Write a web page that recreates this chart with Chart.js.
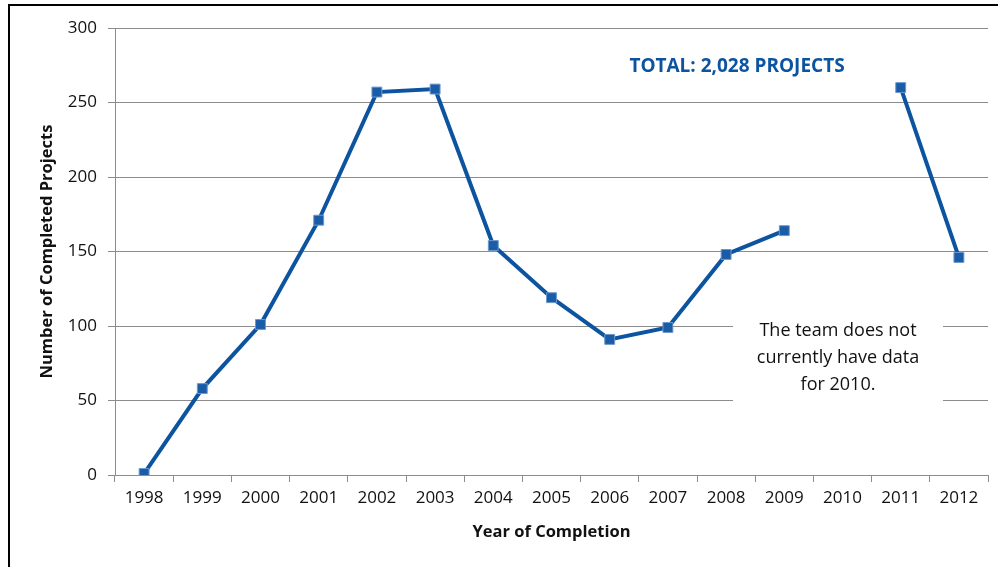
<!DOCTYPE html>
<html>
<head>
<meta charset="utf-8">
<script src="https://cdn.jsdelivr.net/npm/chart.js@4.4.1/dist/chart.umd.min.js"></script>
<style>
  html, body { margin: 0; padding: 0; background: #fff; overflow: hidden; }
  #wrap { position: relative; width: 998px; height: 567px; }
  #frame {
    position: absolute; left: 8px; top: 4px; width: 1100px; height: 700px;
    border-left: 2px solid #000; border-top: 2px solid #000; pointer-events: none;
  }
</style>
</head>
<body>
<div id="wrap">
  <canvas id="chart"></canvas>
  <div id="frame"></div>
</div>
<script>
const years = ["1998", "1999", "2000", "2001", "2002", "2003", "2004", "2005",
  "2006", "2007", "2008", "2009", "2010", "2011", "2012"];
// 2010 has no data, left as a gap in the line
const completed = [1, 58, 101, 171, 257, 259, 154, 119, 91, 99, 148, 164, null, 260, 146];
const yTicks = [0, 50, 100, 150, 200, 250, 300];

const yTitle = "Number of Completed Projects";
const totalText = "TOTAL: 2,028 PROJECTS";
const noteLines = ["The team does not", "currently have data", "for 2010."];

const FONT = "'Open Sans', 'Noto Sans', sans-serif";
const BLUE = "#0d54a0";

const overlay = {
  id: "overlay",
  afterDatasetsDraw(chart) {
    const ctx = chart.ctx;
    const area = chart.chartArea;
    ctx.save();
    // white note box sits over the grid lines
    ctx.fillStyle = "#fff";
    ctx.fillRect(733, 314, 210, 92);
    ctx.fillStyle = "#111";
    ctx.font = "18px " + FONT;
    ctx.textAlign = "center";
    ctx.textBaseline = "middle";
    noteLines.forEach((line, i) => ctx.fillText(line, 838, 331 + i * 27));

    ctx.fillStyle = BLUE;
    ctx.font = "bold 19px " + FONT;
    ctx.fillText(totalText, 737, 67);

    // y axis title, centred on the plot height
    ctx.fillStyle = "#111";
    ctx.font = "bold 16.5px " + FONT;
    ctx.translate(47, (area.top + area.bottom) / 2);
    ctx.rotate(-Math.PI / 2);
    ctx.fillText(yTitle, 0, 0);
    ctx.restore();
  },
};

new Chart(document.getElementById("chart"), {
  type: "line",
  data: {
    labels: years,
    datasets: [{
      data: completed,
      borderColor: BLUE,
      borderWidth: 4,
      pointStyle: "rect",
      pointRadius: 7,
      pointHoverRadius: 7,
      pointBackgroundColor: "#1a5ca8",
      pointBorderColor: "#6d98cc",
      pointBorderWidth: 1,
      spanGaps: false,
      tension: 0,
    }],
  },
  options: {
    responsive: true,
    maintainAspectRatio: false,
    animation: false,
    layout: { padding: { left: 0, top: 28, right: 10, bottom: 0 } },
    plugins: { legend: { display: false }, tooltip: { enabled: false } },
    scales: {
      x: {
        offset: true,
        grid: { display: true, drawOnChartArea: false, offset: true, tickLength: 7, color: "#8c8c8c" },
        border: { color: "#8c8c8c", width: 1 },
        ticks: { color: "#111", font: { family: FONT, size: 17 }, padding: 6, maxRotation: 0, autoSkip: false },
        title: {
          display: true, text: "Year of Completion", color: "#111",
          font: { family: FONT, size: 16.5, weight: "bold" }, padding: { top: 0, bottom: 25 },
        },
        afterFit(scale) { scale.height = 92; },
      },
      y: {
        min: 0,
        max: 300,
        afterBuildTicks(scale) { scale.ticks = yTicks.map((v) => ({ value: v })); },
        grid: { color: "#8c8c8c", tickLength: 7, lineWidth: 1 },
        border: { color: "#8c8c8c", width: 1 },
        ticks: { color: "#111", font: { family: FONT, size: 17 }, padding: 11 },
        afterFit(scale) { scale.width = 115; },
      },
    },
  },
  plugins: [overlay],
});
</script>
</body>
</html>
